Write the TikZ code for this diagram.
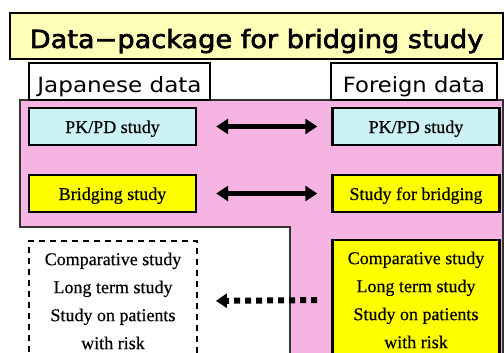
\documentclass[tikz,border=0pt]{standalone}
\usepackage{fontspec}
\setmainfont{Liberation Serif}[FakeBold=0.4]
\newfontfamily\gothic{DejaVu Sans}
\newfontfamily\gothicheavy{DejaVu Sans}[FakeBold=2.5]
\usetikzlibrary{arrows.meta}

\definecolor{bandpink}{RGB}{246,180,226}
\definecolor{pkcyan}{RGB}{205,242,246}
\definecolor{studyyellow}{RGB}{255,255,0}
\definecolor{titleyellow}{RGB}{255,255,184}

\tikzset{
  titlebox/.style={draw=black, line width=1.2pt, fill=titleyellow,
    minimum width=493pt, minimum height=46pt, inner sep=0pt,
    text height=24pt, text depth=0pt,
    font=\gothicheavy\fontsize{25}{30}\selectfont},
  sidebox/.style={draw=black, line width=1.2pt, fill=white,
    minimum height=37pt, inner sep=0pt,
    text height=23pt, text depth=0pt,
    font=\gothic\fontsize{21}{25}\selectfont},
  studybox/.style={draw=black, line width=2.4pt,
    minimum width=167pt, minimum height=37pt, inner sep=0pt,
    text height=13pt, text depth=0pt,
    font=\fontsize{18}{22}\selectfont},
  extbox/.style={minimum width=168pt, minimum height=120pt, inner sep=0pt,
    align=center, font=\fontsize{18}{28}\selectfont},
  pairarrow/.style={line width=5pt,
    {Triangle[width=15pt,length=12pt]}-{Triangle[width=15pt,length=12pt]}},
  borrowarrow/.style={line width=6pt, dash pattern=on 6pt off 5pt,
    -{Triangle[width=14pt,length=11pt]}},
}

\begin{document}
\begin{tikzpicture}[x=1pt,y=-1pt]
\useasboundingbox (0,0) rectangle (504,353);
\clip (0,0) rectangle (504,353);

% pink band: data shared by both regions
\draw[line width=1.2pt, draw=black!80, fill=bandpink]
  (20,100) -- (503,100) -- (503,365) -- (290,365) -- (290,227) -- (20,227) -- cycle;

% heading
\node[titlebox] (title) at (256.5,36)
  {\scalebox{1.087}[1]{Data−package for bridging study}};

% column headers
\node[sidebox, minimum width=181pt] (jhead) at (119.5,81.5)
  {\scalebox{1.1}[1]{Japanese data}};
\node[sidebox, minimum width=166pt] (fhead) at (414,81.5)
  {\scalebox{1.08}[1]{Foreign data}};

% paired studies
\node[studybox, fill=pkcyan] (jpk) at (112.5,126.5) {PK/PD study};
\node[studybox, fill=pkcyan] (fpk) at (416,126.5) {PK/PD study};
\node[studybox, fill=studyyellow] (jbr) at (112.5,193.5) {Bridging study};
\node[studybox, fill=studyyellow] (fbr) at (416,193.5) {Study for bridging};

% extrapolated studies
\node[extbox, draw=black, line width=1.8pt, dash pattern=on 6pt off 5pt]
  (jext) at (113,301)
  {Comparative study\\Long term study\\Study on patients\\with risk};
\node[extbox, draw=black, line width=2.8pt, fill=studyyellow, minimum width=167pt]
  (fext) at (416,300)
  {Comparative study\\Long term study\\Study on patients\\with risk};

% connectors
\draw[pairarrow, shorten <=19pt, shorten >=14pt] (jpk) -- (fpk);
\draw[pairarrow, shorten <=19pt, shorten >=14pt] (jbr) -- (fbr);
\draw[borrowarrow, shorten <=14pt, shorten >=18pt] (fext.west) -- (jext.east);
\end{tikzpicture}
\end{document}
